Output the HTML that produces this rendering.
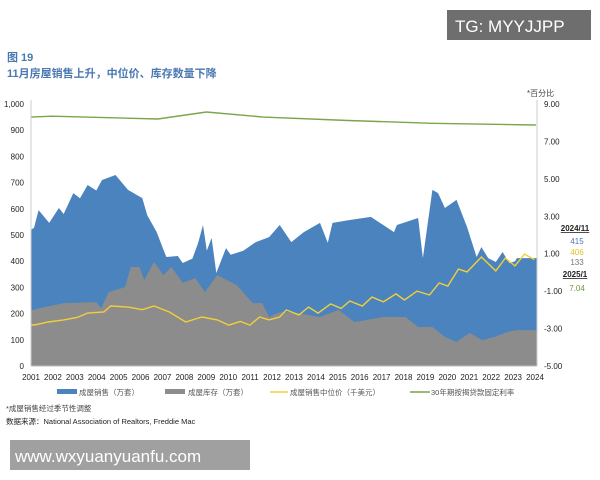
<!DOCTYPE html>
<html><head><meta charset="utf-8"><style>
body{margin:0;width:600px;height:480px;background:#fff;overflow:hidden;font-family:"Liberation Sans","Noto Sans CJK SC",sans-serif}
svg{position:absolute;left:0;top:0}
</style></head><body>
<svg width="600" height="480" id="chart" font-family="Liberation Sans, Noto Sans CJK SC, sans-serif">
<rect x="447" y="10" width="144" height="30" fill="#6e6e6e"/>
<text x="455" y="32" font-size="17" fill="#fff">TG: MYYJJPP</text>
<text x="7" y="61" font-size="11" font-weight="bold" fill="#4a78b0">图 19</text>
<text x="7" y="77" font-size="11" font-weight="bold" fill="#4a78b0">11月房屋销售上升，中位价、库存数量下降</text>
<text x="527" y="96" font-size="8" fill="#444">*百分比</text>
<g id="plot"></g>
<g font-size="7.5" fill="#555">
<rect x="57" y="389" width="20" height="5" fill="#4a83bd"/>
<text x="79" y="395">成屋销售（万套）</text>
<rect x="165" y="389" width="20" height="5" fill="#8c8c8c"/>
<text x="188" y="395">成屋库存（万套）</text>
<line x1="270" y1="392" x2="288" y2="392" stroke="#f2cf3a" stroke-width="1.5"/>
<text x="290" y="395">成屋销售中位价（千美元）</text>
<line x1="410" y1="392" x2="430" y2="392" stroke="#7aa64a" stroke-width="1.5"/>
<text x="431" y="395">30年期按揭贷款固定利率</text>
</g>
<text x="6" y="411" font-size="7.5" fill="#444">*成屋销售经过季节性调整</text>
<text x="6" y="424" font-size="7.5" fill="#222">数据来源：National Association of Realtors, Freddie Mac</text>
<g font-size="8" text-anchor="middle">
<text x="575" y="231" font-weight="bold" fill="#222" text-decoration="underline">2024/11</text>
<text x="577" y="244" fill="#4a78b0">415</text>
<text x="577" y="255" fill="#e8c020">406</text>
<text x="577" y="265" fill="#777">133</text>
<text x="575" y="277" font-weight="bold" fill="#222" text-decoration="underline">2025/1</text>
<text x="577" y="291" fill="#6c9a3a">7.04</text>
</g>
<rect x="10" y="440" width="240" height="30" fill="#a0a0a0"/>
<text x="15" y="462" font-size="17" fill="#fff">www.wxyuanyuanfu.com</text>
</svg>
<script>
const salesDates=[2001.0,2001.14,2001.36,2001.86,2002.32,2002.55,2003.0,2003.32,2003.68,2004.09,2004.36,2005.0,2005.59,2006.27,2006.5,2006.95,2007.27,2007.41,2007.95,2008.18,2008.64,2008.91,2009.14,2009.32,2009.55,2009.77,2010.23,2010.45,2011.05,2011.64,2012.27,2012.77,2013.32,2013.91,2014.68,2015.05,2015.27,2016.05,2017.09,2018.18,2018.32,2019.32,2019.55,2020.0,2020.27,2020.59,2021.14,2021.64,2022.09,2022.32,2022.64,2023.0,2023.32,2023.64,2023.91,2024.0];
const salesValues=[520,527,595,546,603,580,660,640,691,670,710,729,672,641,576,511,443,416,420,393,410,469,538,440,489,355,450,425,440,473,492,538,473,511,546,470,546,557,569,511,538,565,412,672,660,603,634,530,416,454,412,397,435,393,400,412];
const invDates=[2001.0,2001.14,2001.36,2002.55,2004.09,2004.32,2004.68,2005.45,2005.73,2006.14,2006.36,2006.82,2007.27,2007.64,2008.18,2008.77,2009.23,2009.82,2010.73,2011.5,2011.95,2012.27,2012.77,2013.32,2014.68,2015.55,2016.32,2017.68,2018.73,2019.32,2020.0,2020.59,2021.14,2021.77,2022.36,2022.95,2023.55,2024.0];
const invValues=[214,214,220,240,244,221,282,301,378,378,328,397,347,378,317,336,282,347,309,240,240,187,205,206,187,214,168,187,187,149,149,111,92,126,99,111,130,137];
const priceDates=[2001.0,2001.14,2001.82,2002.55,2003.18,2003.68,2004.45,2004.77,2005.59,2006.27,2006.82,2007.55,2008.32,2009.09,2009.82,2010.36,2010.91,2011.36,2011.82,2012.27,2012.77,2013.09,2013.68,2014.14,2014.59,2015.18,2015.68,2016.09,2016.68,2017.14,2017.68,2018.27,2018.68,2019.27,2019.86,2020.32,2020.73,2021.23,2021.64,2022.32,2023.0,2023.45,2023.91,2024.36,2024.82];
const priceValues=[158,156,168,176,185,202,206,229,225,215,229,206,168,187,176,156,170,156,187,176,187,214,195,225,202,237,220,248,229,263,245,275,252,286,271,317,305,370,359,416,363,412,382,427,406];
const rateDates=[2001.0,2002.0,2007.0,2009.3,2012.0,2016.0,2020.0,2024.9];
const rateValues=[8.3,8.35,8.2,8.57,8.3,8.12,7.97,7.88];
const leftTicks=[0,100,200,300,400,500,600,700,800,900,1000];
const leftTickLabels=["0","100","200","300","400","500","600","700","800","900","1,000"];
const rightTicks=[-5,-3,-1,1,3,5,7,9];
const rightTickLabels=["-5.00","-3.00","-1.00","1.00","3.00","5.00","7.00","9.00"];
const years=[2001,2002,2003,2004,2005,2006,2007,2008,2009,2010,2011,2012,2013,2014,2015,2016,2017,2018,2019,2020,2021,2022,2023,2024];

const NS='http://www.w3.org/2000/svg';
const X0=31,X1=537,Y0=366,Y1=104;
const xS=d=>X0+(d-2001)/(2024.95-2001)*(X1-X0);
const yL=v=>Y0-(v/1000)*(Y0-Y1);
const yR=v=>Y0-((v+5)/14)*(Y0-Y1);
const plot=document.getElementById('plot');
function mk(tag,attrs){const e=document.createElementNS(NS,tag);for(const k in attrs)e.setAttribute(k,attrs[k]);plot.appendChild(e);return e;}
function area(dates,vals,fill,name){
  let d='M'+xS(dates[0])+','+Y0;
  dates.forEach((t,i)=>{d+=' L'+xS(t).toFixed(1)+','+yL(vals[i]).toFixed(1);});
  d+=' L'+xS(2024.95)+','+yL(vals[vals.length-1]).toFixed(1)+' L'+xS(2024.95)+','+Y0+'Z';
  const p=mk('path',{d:d,fill:fill});
  
  
}
function line(dates,vals,yf,stroke,name){
  const pts=dates.map((t,i)=>xS(t).toFixed(1)+','+yf(vals[i]).toFixed(1)).join(' ');
  const p=mk('polyline',{points:pts,fill:'none',stroke:stroke,'stroke-width':1.4});
  
  
}
area(salesDates,salesValues,'#4a83bd','sales-area');
area(invDates,invValues,'#8c8c8c','inventory-area');
line(priceDates,priceValues,yL,'#f2cf3a','price-line');
line(rateDates,rateValues,yR,'#7aa64a','rate-line');
// axes
let a=mk('line',{x1:X0,y1:Y1-4,x2:X0,y2:Y0,stroke:'#ccc'});


a=mk('line',{x1:X1,y1:Y1-4,x2:X1,y2:Y0,stroke:'#ccc'});


a=mk('line',{x1:X0,y1:Y0,x2:X1,y2:Y0,stroke:'#bbb'});


leftTicks.forEach((v,i)=>{
  const t=mk('text',{x:X0-7,y:yL(v)+3,'font-size':8,'text-anchor':'end',fill:'#222'});
  t.textContent=leftTickLabels[i];
  
  
});
rightTicks.forEach((v,i)=>{
  const t=mk('text',{x:X1+7,y:yR(v)+3,'font-size':8,fill:'#222'});
  t.textContent=rightTickLabels[i];
  
  
});
years.forEach(y=>{
  const xx=31+(y-2001)*(535-31)/23;
  const t=mk('text',{x:xx,y:380,'font-size':8,'text-anchor':'middle',fill:'#222'});
  t.textContent=String(y);
  
  
});
</script>
</body></html>
